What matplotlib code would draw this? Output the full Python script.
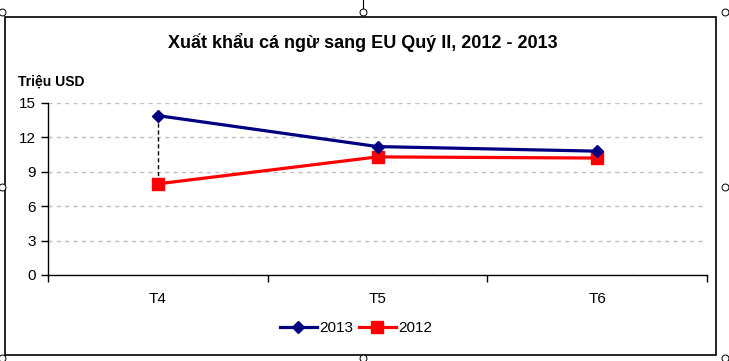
import matplotlib
matplotlib.use("Agg")
import matplotlib.pyplot as plt
from matplotlib.patches import Rectangle
from matplotlib.lines import Line2D

categories = ["T4", "T5", "T6"]
v2013 = [13.9, 11.2, 10.8]
v2012 = [7.95, 10.3, 10.2]
yticks = [0, 3, 6, 9, 12, 15]

plt.rcParams['font.family'] = ['Liberation Sans', 'DejaVu Sans']
W, H = 729, 361
fig = plt.figure(figsize=(W/100, H/100), dpi=100)
fig.patch.set_facecolor('white')

def fx(px): return px / W
def fy(py): return 1 - py / H

# chart frame
fig.add_artist(Rectangle((fx(5), fy(355)), fx(716) - fx(5), fy(17) - fy(355),
                         transform=fig.transFigure, fill=False, ec='black', lw=1.2))
fig.add_artist(Line2D([fx(363), fx(363)], [fy(0), fy(9)], transform=fig.transFigure, color='black', lw=0.8))
# selection handles
hx = [2, 363, 725, 2, 725, 2, 363, 725]
hy = [12, 12, 12, 187, 187, 358, 358, 358]
fig.add_artist(Line2D([fx(v) for v in hx], [fy(v) for v in hy], transform=fig.transFigure,
                      ls='none', marker='o', ms=5, mfc='white', mec='black', mew=0.7))

ax = fig.add_axes([fx(48), fy(275), fx(707) - fx(48), fy(103) - fy(275)])
x = list(range(len(categories)))
ax.set_xlim(-0.5, len(categories) - 0.5)
ax.set_ylim(0, 15)

for xi, a, b in zip(x, v2013, v2012):
    ax.plot([xi, xi], [a, b], color='black', lw=1, ls=(0, (3, 2)), zorder=2)

ax.plot(x, v2013, color='#000080', lw=2.3, marker='D', ms=6, label='2013', zorder=4)
ax.plot(x, v2012, color='#ff0000', lw=2.3, marker='s', ms=8, label='2012', zorder=3)

ax.set_yticks(yticks)
ax.set_yticklabels([str(t) for t in yticks], fontsize=11)
ax.yaxis.grid(True, color='#c0c0c0', ls=(0, (3, 3)), lw=1)
ax.set_axisbelow(True)
ax.set_xticks([-0.5, 0.5, 1.5, 2.5])
ax.set_xticklabels([])
ax.set_xticks(x, minor=True)
ax.set_xticklabels(categories, minor=True, fontsize=11)
ax.tick_params(axis='x', which='minor', length=0, pad=12)
ax.tick_params(axis='x', which='major', length=5, direction='out', width=1)
ax.tick_params(axis='y', length=5, direction='out', width=1, pad=4)
for s in ['top', 'right']:
    ax.spines[s].set_visible(False)
ax.spines['left'].set_linewidth(1)
ax.spines['bottom'].set_linewidth(1)

fig.text(fx(363), fy(42), "Xuất khẩu cá ngừ sang EU Quý II, 2012 - 2013",
         ha='center', va='center', fontsize=13, fontweight='bold')
fig.text(fx(18), fy(82), "Triệu USD", ha='left', va='center', fontsize=10, fontweight='bold')

ax.legend(loc='center', bbox_to_anchor=(fx(356), fy(328)), bbox_transform=fig.transFigure,
          ncol=2, frameon=False, fontsize=11, handlelength=2.4, columnspacing=0.4,
          handletextpad=0.15, borderpad=0.2)

fig.savefig("out.png", dpi=100, facecolor='white')
